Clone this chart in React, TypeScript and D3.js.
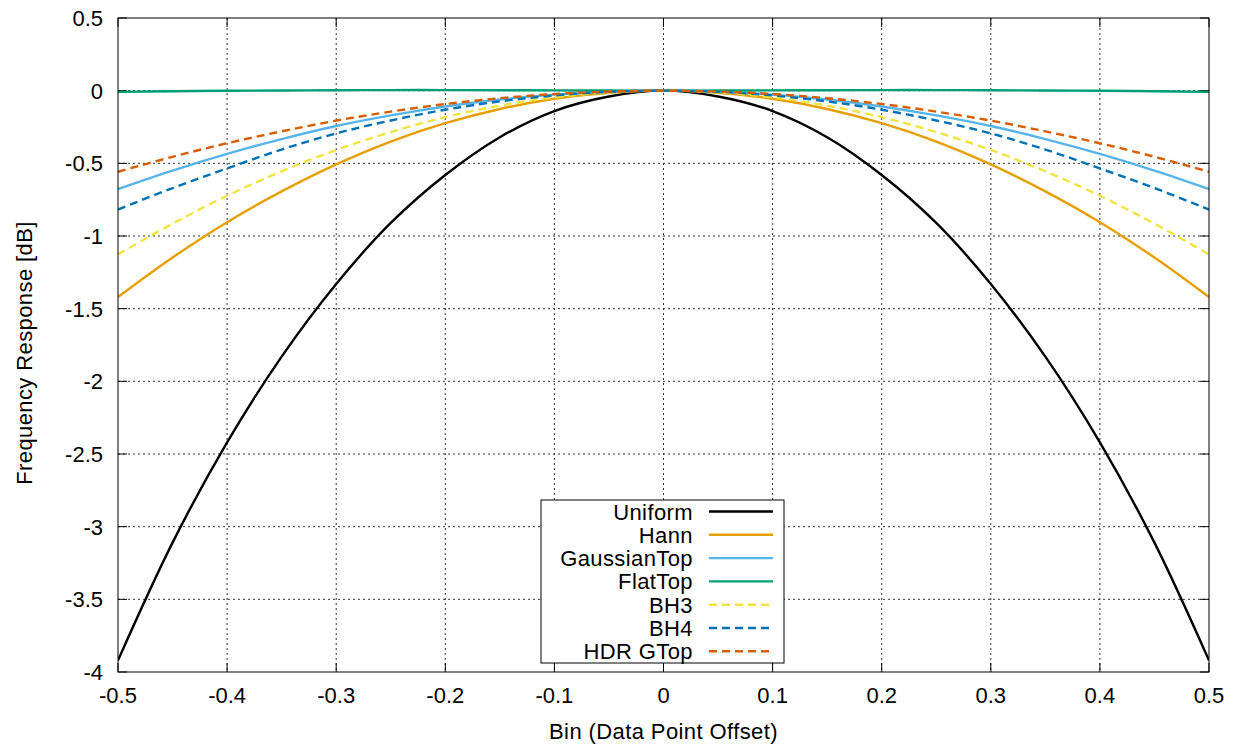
import React, { useEffect, useRef } from 'react';
import * as d3 from 'd3';

// bin offsets, step 0.05
const bins = [-0.5, -0.45, -0.4, -0.35, -0.3, -0.25, -0.2, -0.15, -0.1, -0.05, 0,
  0.05, 0.1, 0.15, 0.2, 0.25, 0.3, 0.35, 0.4, 0.45, 0.5];

const uniform = [-3.92, -3.11, -2.42, -1.83, -1.33, -0.91, -0.58, -0.32, -0.14, -0.04, 0,
  -0.04, -0.14, -0.32, -0.58, -0.91, -1.33, -1.83, -2.42, -3.11, -3.92];
const hann = [-1.42, -1.148, -0.905, -0.693, -0.507, -0.35, -0.224, -0.126, -0.056, -0.014, 0,
  -0.014, -0.056, -0.126, -0.224, -0.35, -0.507, -0.693, -0.905, -1.148, -1.42];
const gaussianTop = [-0.677, -0.55, -0.435, -0.333, -0.243, -0.17, -0.109, -0.061, -0.027, -0.007, 0,
  -0.007, -0.027, -0.061, -0.109, -0.17, -0.243, -0.333, -0.435, -0.55, -0.677];
const flatTop = [-0.008, -0.004, -0.001, 0.001, 0.003, 0.004, 0.004, 0.003, 0.002, 0.001, 0,
  0.001, 0.002, 0.003, 0.004, 0.004, 0.003, 0.001, -0.001, -0.004, -0.008];
const bh3 = [-1.127, -0.915, -0.723, -0.555, -0.408, -0.285, -0.182, -0.103, -0.046, -0.011, 0,
  -0.011, -0.046, -0.103, -0.182, -0.285, -0.408, -0.555, -0.723, -0.915, -1.127];
const bh4 = [-0.818, -0.67, -0.535, -0.405, -0.294, -0.205, -0.131, -0.074, -0.033, -0.008, 0,
  -0.008, -0.033, -0.074, -0.131, -0.205, -0.294, -0.405, -0.535, -0.67, -0.818];
const hdrGTop = [-0.558, -0.455, -0.362, -0.28, -0.206, -0.144, -0.092, -0.052, -0.023, -0.006, 0,
  -0.006, -0.023, -0.052, -0.092, -0.144, -0.206, -0.28, -0.362, -0.455, -0.558];

const seriesNames = ['Uniform', 'Hann', 'GaussianTop', 'FlatTop', 'BH3', 'BH4', 'HDR GTop'];
const seriesValues = [uniform, hann, gaussianTop, flatTop, bh3, bh4, hdrGTop];
const seriesColors = ['#000000', '#e69f00', '#56b4e9', '#009e73', '#f0e442', '#0072b2', '#d55e00'];
const seriesDashed = [false, false, false, false, true, true, true];

const xTicks = [-0.5, -0.4, -0.3, -0.2, -0.1, 0, 0.1, 0.2, 0.3, 0.4, 0.5];
const yTicks = [0.5, 0, -0.5, -1, -1.5, -2, -2.5, -3, -3.5, -4];

const W = 1241;
const H = 745;
const FONT = '"Liberation Sans", Arial, Helvetica, sans-serif';
const FS = 22;

export default function App() {
  const ref = useRef<SVGSVGElement | null>(null);

  useEffect(() => {
    const svg = d3.select(ref.current);
    svg.selectAll('*').remove();

    const left = 118, right = 1209, top = 18, bottom = 672;
    const x = d3.scaleLinear().domain([-0.5, 0.5]).range([left, right]);
    const y = d3.scaleLinear().domain([-4, 0.5]).range([bottom, top]);

    svg.append('rect').attr('width', W).attr('height', H).attr('fill', '#fff');

    // grid
    const grid = svg.append('g').attr('stroke', '#333').attr('stroke-width', 1)
      .attr('stroke-dasharray', '2,3');
    xTicks.slice(1, -1).forEach((t) => {
      grid.append('line').attr('x1', x(t)).attr('x2', x(t)).attr('y1', top).attr('y2', bottom);
    });
    yTicks.slice(1, -1).forEach((t) => {
      grid.append('line').attr('x1', left).attr('x2', right).attr('y1', y(t)).attr('y2', y(t));
    });

    // ticks (inside, mirrored)
    const ticks = svg.append('g').attr('stroke', '#000').attr('stroke-width', 1);
    xTicks.forEach((t) => {
      ticks.append('line').attr('x1', x(t)).attr('x2', x(t)).attr('y1', bottom).attr('y2', bottom - 9);
      ticks.append('line').attr('x1', x(t)).attr('x2', x(t)).attr('y1', top).attr('y2', top + 9);
    });
    yTicks.forEach((t) => {
      ticks.append('line').attr('x1', left).attr('x2', left + 9).attr('y1', y(t)).attr('y2', y(t));
      ticks.append('line').attr('x1', right).attr('x2', right - 9).attr('y1', y(t)).attr('y2', y(t));
    });

    // tick labels
    svg.append('g').selectAll('text').data(xTicks).enter().append('text')
      .attr('x', (d) => x(d)).attr('y', 703).attr('text-anchor', 'middle')
      .attr('font-family', FONT).attr('font-size', FS).text((d) => String(d));
    svg.append('g').selectAll('text').data(yTicks).enter().append('text')
      .attr('x', 103).attr('y', (d) => y(d) + 8).attr('text-anchor', 'end')
      .attr('font-family', FONT).attr('font-size', FS).text((d) => String(d));

    // axis titles
    svg.append('text').attr('x', (left + right) / 2).attr('y', 739).attr('text-anchor', 'middle')
      .attr('font-family', FONT).attr('font-size', FS).attr('letter-spacing', 0.4)
      .text('Bin (Data Point Offset)');
    svg.append('text').attr('transform', `translate(32,${(top + bottom) / 2 + 8}) rotate(-90)`)
      .attr('text-anchor', 'middle').attr('font-family', FONT).attr('font-size', FS)
      .attr('letter-spacing', 0.4).text('Frequency Response [dB]');

    // curves
    svg.append('clipPath').attr('id', 'plot-clip').append('rect')
      .attr('x', left).attr('y', top).attr('width', right - left).attr('height', bottom - top);
    const line = d3.line<number>()
      .x((_, i) => x(bins[i]))
      .y((d) => y(d))
      .curve(d3.curveCatmullRom);
    const curves = svg.append('g').attr('clip-path', 'url(#plot-clip)');
    seriesValues.forEach((vals, i) => {
      curves.append('path').attr('d', line(vals)).attr('fill', 'none')
        .attr('stroke', seriesColors[i]).attr('stroke-width', 2.4)
        .attr('stroke-dasharray', seriesDashed[i] ? '8,5' : null);
    });

    // border
    svg.append('rect').attr('x', left).attr('y', top).attr('width', right - left)
      .attr('height', bottom - top).attr('fill', 'none').attr('stroke', '#000').attr('stroke-width', 1);

    // legend
    const lg = svg.append('g');
    lg.append('rect').attr('x', 541).attr('y', 500).attr('width', 243).attr('height', 163)
      .attr('fill', '#fff').attr('stroke', '#000').attr('stroke-width', 1);
    seriesNames.forEach((name, i) => {
      const ry = 511.5 + i * 23.3;
      lg.append('text').attr('x', 693).attr('y', ry + 8).attr('text-anchor', 'end')
        .attr('font-family', FONT).attr('font-size', FS).attr('letter-spacing', 0.4).text(name);
      lg.append('line').attr('x1', 709).attr('x2', 773).attr('y1', ry).attr('y2', ry)
        .attr('stroke', seriesColors[i]).attr('stroke-width', 2.4)
        .attr('stroke-dasharray', seriesDashed[i] ? '8,5' : null);
    });
  }, []);

  return (
    <div style={{ position: 'absolute', left: 0, top: 0 }}>
      <svg ref={ref} width={W} height={H}></svg>
    </div>
  );
}
